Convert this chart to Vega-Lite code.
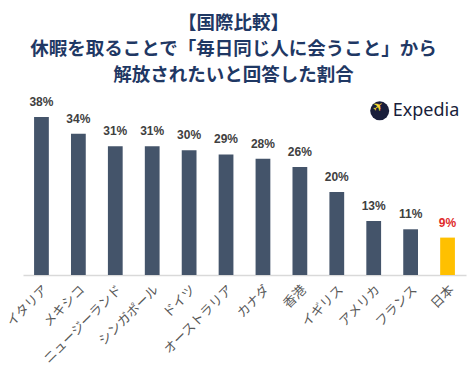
{
  "$schema": "https://vega.github.io/schema/vega-lite/v6.json",
  "autosize": {"type": "none"},
  "width": 443,
  "height": 187,
  "padding": {"left": 23, "top": 88, "right": 1, "bottom": 100},
  "background": "white",
  "config": {"view": {"stroke": null}},
  "title": {
    "text": ["【国際比較】", "休暇を取ることで「毎日同じ人に会うこと」から", "解放されたいと回答した割合"],
    "font": "Noto Sans CJK JP",
    "fontSize": 18.5,
    "fontWeight": "bold",
    "color": "#1F3864",
    "lineHeight": 26,
    "anchor": "middle",
    "frame": "group",
    "offset": 4,
    "dx": -11
  },
  "encoding": {
    "x": {
      "field": "country", "type": "nominal", "sort": null,
      "scale": {"paddingInner": 0.6, "paddingOuter": 0.3,
        "domain": ["イタリア", "メキシコ", "ニュージーランド", "シンガポール", "ドイツ", "オーストラリア", "カナダ", "香港", "イギリス", "アメリカ", "フランス", "日本"]},
      "axis": {
        "title": null, "labelAngle": -45, "labelFont": "Noto Sans CJK JP",
        "labelFontSize": 13, "labelColor": "#595959", "ticks": false,
        "domainColor": "#D9D9D9", "domainWidth": 1.5, "labelPadding": 8
      }
    },
    "y": {
      "field": "pct", "type": "quantitative",
      "scale": {"domain": [0, 0.45]}, "axis": null
    }
  },
  "layer": [
    {
      "data": {"values": [
        {"country": "イタリア", "pct": 0.38},
        {"country": "メキシコ", "pct": 0.34},
        {"country": "ニュージーランド", "pct": 0.31},
        {"country": "シンガポール", "pct": 0.31},
        {"country": "ドイツ", "pct": 0.30},
        {"country": "オーストラリア", "pct": 0.29},
        {"country": "カナダ", "pct": 0.28},
        {"country": "香港", "pct": 0.26},
        {"country": "イギリス", "pct": 0.20},
        {"country": "アメリカ", "pct": 0.13},
        {"country": "フランス", "pct": 0.11},
        {"country": "日本", "pct": 0.09}
      ]},
      "layer": [
        {
          "mark": {"type": "bar"},
          "encoding": {
            "color": {
              "condition": {"test": "datum.country === '日本'", "value": "#FFC000"},
              "value": "#44546A"
            }
          }
        },
        {
          "mark": {"type": "text", "baseline": "bottom", "dy": -8, "font": "Liberation Sans", "fontSize": 12, "fontWeight": "bold"},
          "encoding": {
            "text": {"field": "pct", "type": "quantitative", "format": ".0%"},
            "color": {
              "condition": {"test": "datum.country === '日本'", "value": "#E02B2B"},
              "value": "#404040"
            }
          }
        }
      ]
    },
    {
      "data": {"values": [{"country": "アメリカ", "pct": 0.395, "brand": "Expedia", "icon": "✈"}]},
      "layer": [
        {
          "mark": {"type": "point", "shape": "circle", "filled": true, "size": 361, "color": "#191E3B", "opacity": 1, "xOffset": 6}
        },
        {
          "mark": {"type": "text", "font": "DejaVu Sans", "fontSize": 13, "color": "#FDDB32", "angle": -40, "dx": 6, "align": "center", "baseline": "middle"},
          "encoding": {"text": {"field": "icon"}}
        },
        {
          "mark": {"type": "text", "font": "Noto Sans", "fontSize": 18, "color": "#191E3B", "dx": 19, "align": "left", "baseline": "middle"},
          "encoding": {"text": {"field": "brand"}}
        }
      ]
    }
  ]
}
